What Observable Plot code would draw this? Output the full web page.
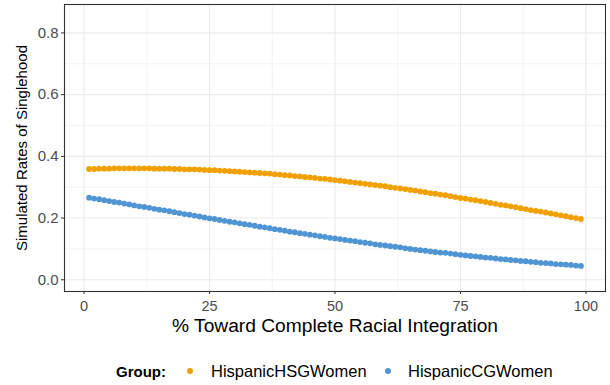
<!DOCTYPE html>
<html><head><meta charset="utf-8">
<script src="https://cdn.jsdelivr.net/npm/d3@7"></script>
<script src="https://cdn.jsdelivr.net/npm/@observablehq/plot@0.6"></script>
<style>
body{margin:0;background:#fff;font-family:"Liberation Sans",Arial,sans-serif;}
#chart svg{display:block;}
#legend{position:relative;height:45px;width:610px;}
#legend span{position:absolute;top:31px;transform:translateY(-50%);white-space:nowrap;color:#000;}
#legend .title{font-weight:bold;font-size:15px;}
#legend .lab{font-size:16.5px;}
#legend .dot{width:6px;height:6px;border-radius:50%;}
</style></head><body>
<div id="chart"></div>
<div id="legend"></div>
<script>
const integration = [1,2,3,4,5,6,7,8,9,10,11,12,13,14,15,16,17,18,19,20,21,22,23,24,25,26,27,28,29,30,31,32,33,34,35,36,37,38,39,40,41,42,43,44,45,46,47,48,49,50,51,52,53,54,55,56,57,58,59,60,61,62,63,64,65,66,67,68,69,70,71,72,73,74,75,76,77,78,79,80,81,82,83,84,85,86,87,88,89,90,91,92,93,94,95,96,97,98,99];
const hispanicHSGWomen = [0.359,0.359,0.360,0.360,0.360,0.361,0.361,0.361,0.361,0.361,0.361,0.361,0.361,0.360,0.360,0.360,0.360,0.359,0.359,0.358,0.358,0.358,0.357,0.356,0.355,0.355,0.354,0.353,0.352,0.351,0.350,0.349,0.348,0.347,0.346,0.345,0.344,0.342,0.341,0.339,0.338,0.336,0.335,0.333,0.332,0.330,0.328,0.327,0.325,0.323,0.321,0.319,0.317,0.315,0.313,0.311,0.309,0.307,0.305,0.303,0.300,0.298,0.296,0.294,0.291,0.289,0.286,0.284,0.281,0.279,0.276,0.274,0.271,0.268,0.265,0.263,0.260,0.258,0.255,0.252,0.249,0.246,0.243,0.241,0.238,0.235,0.232,0.229,0.226,0.223,0.221,0.218,0.215,0.212,0.209,0.206,0.203,0.200,0.197];
const hispanicCGWomen = [0.266,0.263,0.261,0.258,0.255,0.252,0.250,0.247,0.244,0.241,0.238,0.236,0.233,0.230,0.227,0.225,0.222,0.219,0.216,0.213,0.211,0.208,0.205,0.202,0.199,0.197,0.194,0.191,0.188,0.186,0.183,0.180,0.178,0.175,0.172,0.170,0.167,0.164,0.162,0.159,0.156,0.154,0.151,0.149,0.146,0.144,0.141,0.139,0.136,0.134,0.132,0.129,0.127,0.125,0.122,0.120,0.118,0.115,0.113,0.111,0.109,0.107,0.105,0.102,0.100,0.098,0.096,0.094,0.092,0.090,0.088,0.087,0.085,0.083,0.081,0.079,0.077,0.076,0.074,0.072,0.071,0.069,0.067,0.066,0.064,0.063,0.061,0.060,0.058,0.057,0.055,0.054,0.053,0.051,0.050,0.049,0.048,0.046,0.045];
const groups = ["HispanicHSGWomen","HispanicCGWomen"];
const groupColors = ["#F0A000","#4F94D3"];
const xTicks = [0,25,50,75,100];
const xMinor = [12.5,37.5,62.5,87.5];
const yTicks = [0,0.2,0.4,0.6,0.8];
const yMinor = [0.1,0.3,0.5,0.7];
const xTitle = "% Toward Complete Racial Integration";
const yTitle = "Simulated Rates of Singlehood";
const legendTitle = "Group:";

const rows = [];
integration.forEach((x,i)=>{
  rows.push({x, y: hispanicHSGWomen[i], g: groups[0]});
});
integration.forEach((x,i)=>{
  rows.push({x, y: hispanicCGWomen[i], g: groups[1]});
});

const chart = Plot.plot({
  width: 610, height: 340,
  marginLeft: 64, marginRight: 5, marginTop: 4, marginBottom: 49,
  style: {fontFamily: "'Liberation Sans', Arial, sans-serif", background: "#fff"},
  x: {domain: [-3.9, 103.9]},
  y: {domain: [-0.038, 0.892]},
  color: {domain: groups, range: groupColors},
  marks: [
    Plot.gridX(xMinor, {stroke: "#ebebeb", strokeOpacity: 1, strokeWidth: 0.6}),
    Plot.gridY(yMinor, {stroke: "#ebebeb", strokeOpacity: 1, strokeWidth: 0.6}),
    Plot.gridX(xTicks, {stroke: "#ebebeb", strokeOpacity: 1, strokeWidth: 1.1}),
    Plot.gridY(yTicks, {stroke: "#ebebeb", strokeOpacity: 1, strokeWidth: 1.1}),
    Plot.dot(rows, {x: "x", y: "y", fill: "g", r: 2.9}),
    Plot.frame({stroke: "#333", strokeWidth: 1.1}),
    Plot.axisX(xTicks, {tickSize: 3, tickPadding: 6, fontSize: 14.5, fill: "#4d4d4d", stroke: "#333", label: null}),
    Plot.axisY(yTicks, {tickSize: 3, tickPadding: 3, fontSize: 15, fill: "#4d4d4d", stroke: "#333", label: null, tickFormat: d3.format(".1f")}),
    Plot.text([xTitle], {frameAnchor: "bottom", dy: 34.5, fontSize: 19.2, fill: "#000", textAnchor: "middle", lineAnchor: "middle"}),
    Plot.text([yTitle], {frameAnchor: "left", dx: -42, rotate: -90, fontSize: 15, fill: "#000", textAnchor: "middle", lineAnchor: "middle"})
  ]
});
document.getElementById("chart").appendChild(chart);

const lg = document.getElementById("legend");
const items = [
  {cls: "title", text: legendTitle, left: 116},
  {cls: "dot", color: groupColors[0], left: 187},
  {cls: "lab", text: groups[0], left: 211},
  {cls: "dot", color: groupColors[1], left: 385},
  {cls: "lab", text: groups[1], left: 408}
];
items.forEach(it=>{
  const s = document.createElement("span");
  s.className = it.cls;
  s.style.left = it.left + "px";
  if (it.text) s.textContent = it.text;
  if (it.color) s.style.background = it.color;
  lg.appendChild(s);
});
</script>
</body></html>
